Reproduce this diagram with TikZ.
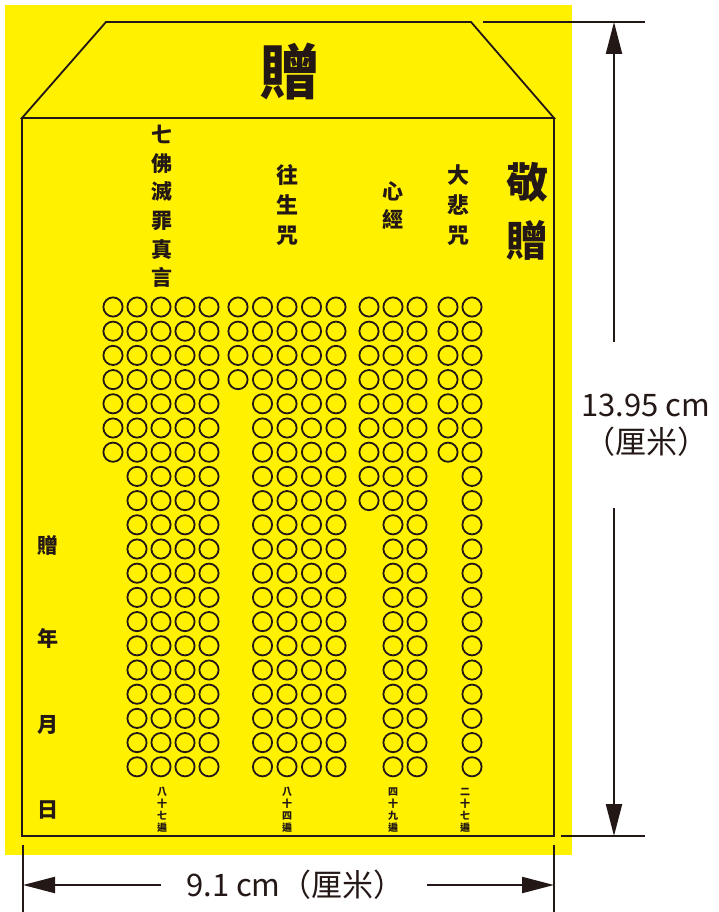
\documentclass[tikz,border=0pt]{standalone}
\usepackage{fontspec}
\setmainfont{Noto Sans CJK TC}
\usetikzlibrary{arrows.meta,calc}

\definecolor{envyellow}{RGB}{255,241,0}
\definecolor{inkcol}{RGB}{35,24,21}

\begin{document}
\begin{tikzpicture}[x=1pt, y=-1pt, every node/.style={text=inkcol, inner sep=0pt}]

\tikzstyle{outline} = [draw=inkcol, line width=1.8pt]
\tikzstyle{bead} = [draw=inkcol, line width=1.8pt]
\tikzstyle{vtext} = [align=center, font=\fontsize{21}{29}\selectfont\bfseries]
\tikzstyle{count} = [align=center, font=\fontsize{10}{12}\selectfont\bfseries]
\tikzstyle{dimline} = [draw=inkcol, line width=2.2pt]
\tikzstyle{dimarrow} = [dimline, -{Triangle[length=32pt, width=16pt]}]
\tikzstyle{dimtext} = [align=center, font=\fontsize{31}{37}\selectfont]

\useasboundingbox (0,0) rectangle (718,912);

% Background
\fill[envyellow] (5,5) rectangle (572,855);

% Envelope
\draw[outline] (22,118) -- (106,22) -- (471,22) -- (554,118) -- cycle;
\draw[outline] (22,118) rectangle (554,836);

% Beads (column x / last row)
\foreach \x/\n in {113/6, 137/19, 161/19, 185/19, 209/19,
                   238/3, 262.5/19, 287/19, 311.5/19, 336/19,
                   369/8, 393/19, 417/19,
                   448/6, 472/19}
  \foreach \r in {0,...,\n}
    \draw[bead] (\x,{307+24.2*\r}) circle[radius=9.6pt];

% Titles
\node[font=\fontsize{60}{60}\selectfont\bfseries] (gift) at (290,72) {贈};
\node[vtext, font=\fontsize{21}{28.6}\selectfont\bfseries] (qifo) at (162,206.5) {七\\佛\\滅\\罪\\真\\言};
\node[vtext, font=\fontsize{22}{30}\selectfont\bfseries] (wangsheng) at (287,205) {往\\生\\咒};
\node[vtext, font=\fontsize{21}{28}\selectfont\bfseries] (xinjing) at (393,206) {心\\經};
\node[vtext, font=\fontsize{22}{30}\selectfont\bfseries] (dabei) at (458,205) {大\\悲\\咒};
\node[vtext, font=\fontsize{42}{58}\selectfont\bfseries] (jingzeng) at (527,211) {敬\\贈};

% Date column
\node[vtext] (zeng) at (48,545) {贈};
\node[vtext] (nian) at (48,638) {年};
\node[vtext] (yue) at (48,725) {月};
\node[vtext] (ri) at (48,810) {日};

% Counts
\node[count] (c87) at (162,810) {八\\十\\七\\遍};
\node[count] (c84) at (287,810) {八\\十\\四\\遍};
\node[count] (c49) at (393,810) {四\\十\\九\\遍};
\node[count] (c27) at (465,810) {二\\十\\七\\遍};

% Dimensions
\coordinate (htop) at (614,22);
\coordinate (hbot) at (614,836);
\coordinate (wleft) at (23,885);
\coordinate (wright) at (554,885);

\draw[dimline] (483,22) -- (645,22);
\draw[dimline] (561,836) -- (645,836);
\draw[dimline] (23,845) -- (23,912);
\draw[dimline] (554,845) -- (554,912);

\node[dimtext, inner ysep=52pt] (hlabel) at (646,425) {13.95 cm\\（厘米）};
\draw[dimarrow] (htop |- hlabel.north) -- (htop);
\draw[dimarrow] (htop |- hlabel.south) -- (hbot);

\node[dimtext, anchor=west] (wlabel) at (186,885) {9.1 cm（厘米）};
\draw[dimarrow, shorten <=25pt] (wlabel.west) -- (wleft);
\draw[dimarrow, shorten <=22pt] (wlabel.east) -- (wright);

\end{tikzpicture}
\end{document}
